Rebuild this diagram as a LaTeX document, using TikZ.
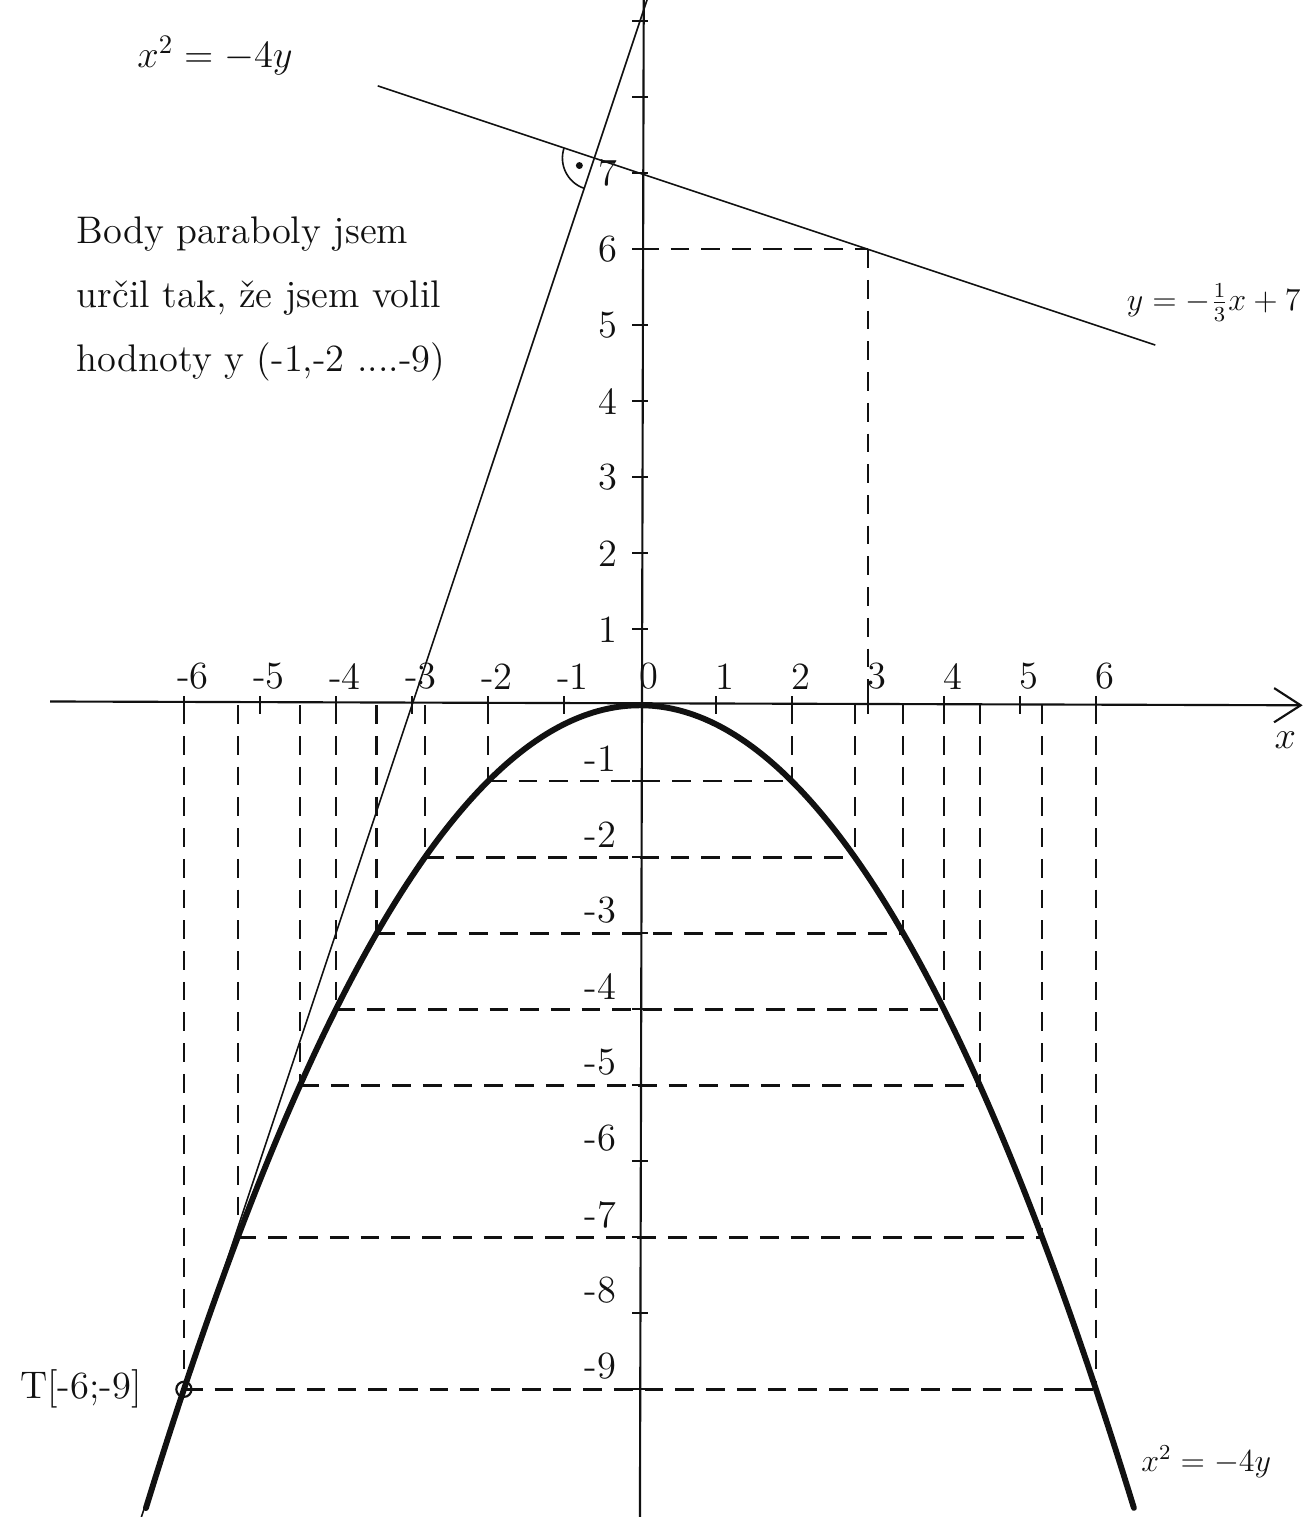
\documentclass[tikz,border=0pt]{standalone}
\usepackage{tikz}
\usetikzlibrary{arrows.meta,positioning}
\definecolor{ink}{HTML}{111111}
\tikzset{
  axis/.style={draw=ink, line width=0.8pt},
  tickmark/.style={draw=ink, line width=0.8pt},
  thinline/.style={draw=ink, line width=0.6pt},
  curve/.style={draw=ink, line width=2.2pt, line cap=round},
  guide/.style={draw=ink, line width=0.9pt, dash pattern=on 7pt off 4.5pt},
  lbl/.style={font=\Large, text=ink, inner sep=1pt},
  eqlbl/.style={font=\large, text=ink, inner sep=1pt}
}

\begin{document}
\begin{tikzpicture}
  \useasboundingbox (-8.42,-10.68) rectangle (8.78,9.28);

  % axes
  \coordinate (xstart) at (-7.76,0.05);
  \coordinate (xend) at (8.72,0);
  \coordinate (ybot) at (0,-10.68);
  \coordinate (ytop) at (0.05,9.28);
  \draw[axis, -{Straight Barb[length=3.5mm,width=4.5mm]}] (xstart) -- (xend);
  \draw[axis] (ybot) -- (ytop);
  \foreach \i in {-6,...,-1,1,2,...,6} \draw[tickmark] (\i,0.12) -- (\i,-0.12);
  \foreach \i in {-9,...,-1,1,2,...,9} \draw[tickmark] (-0.1,\i) -- (0.1,\i);

  % tick labels
  \foreach \i [count=\k] in {-6,...,6} \node[lbl] (xl\k) at (\i+0.12,0.38) {\i};
  \foreach \i in {1,...,7} \node[lbl] (yp\i) at (-0.42,\i) {\i};
  \foreach \i in {1,...,9} \node[lbl] (yn\i) at (-0.52,-\i+0.3) {-\i};
  \node[lbl] (xlab) at (8.49,-0.46) {$x$};

  % points of the parabola
  \foreach \k in {1,2,3,4,5,7,9} {
    \pgfmathsetmacro{\xk}{2*sqrt(\k)}
    \draw[guide] (-\xk,-\k) -- (\xk,-\k);
    \draw[guide] (-\xk,0) -- (-\xk,-\k);
    \draw[guide] (\xk,0) -- (\xk,-\k);
  }
  \draw[curve] plot[domain=-6.5:6.5, samples=120, smooth] (\x,{-\x*\x/4});

  % lines
  \coordinate (Q) at (3,6);
  \draw[guide] (0,6) -- (Q);
  \draw[guide] (Q) -- (3,0);
  \coordinate (n1) at (-3.45,8.15);
  \coordinate (n2) at (6.78,4.74);
  \draw[thinline] (n1) -- (n2);
  \coordinate (t1) at (-6.56,-10.68);
  \coordinate (t2) at (0.093,9.28);
  \draw[thinline] (t1) -- (t2);

  % right angle
  \coordinate (P) at (-0.6,7.2);
  \draw[thinline] ([shift={(161.57:0.42)}]P) arc[start angle=161.57, end angle=251.57, radius=0.42];
  \fill[ink] ([shift={(206.57:0.22)}]P) circle (1.3pt);

  \node[circle, draw=ink, thick, inner sep=0pt, minimum size=2mm] (T) at (-6,-9) {};
  \node[lbl, left=4mm of T] (Tlbl) {T[-6;-9]};

  % equations and note
  \node[lbl] (eqtop) at (-5.59,8.55) {$x^2=-4y$};
  \node[eqlbl] (eqline) at (7.55,5.3) {$y=-\frac{1}{3}x+7$};
  \node[eqlbl] (eqbot) at (7.45,-9.95) {$x^2=-4y$};
  \node[lbl, anchor=west, align=left] (note) at (-7.45,5.35) {Body paraboly jsem\\[6pt]určil tak, že jsem volil\\[6pt]hodnoty y (-1,-2 ....-9)};
\end{tikzpicture}
\end{document}
